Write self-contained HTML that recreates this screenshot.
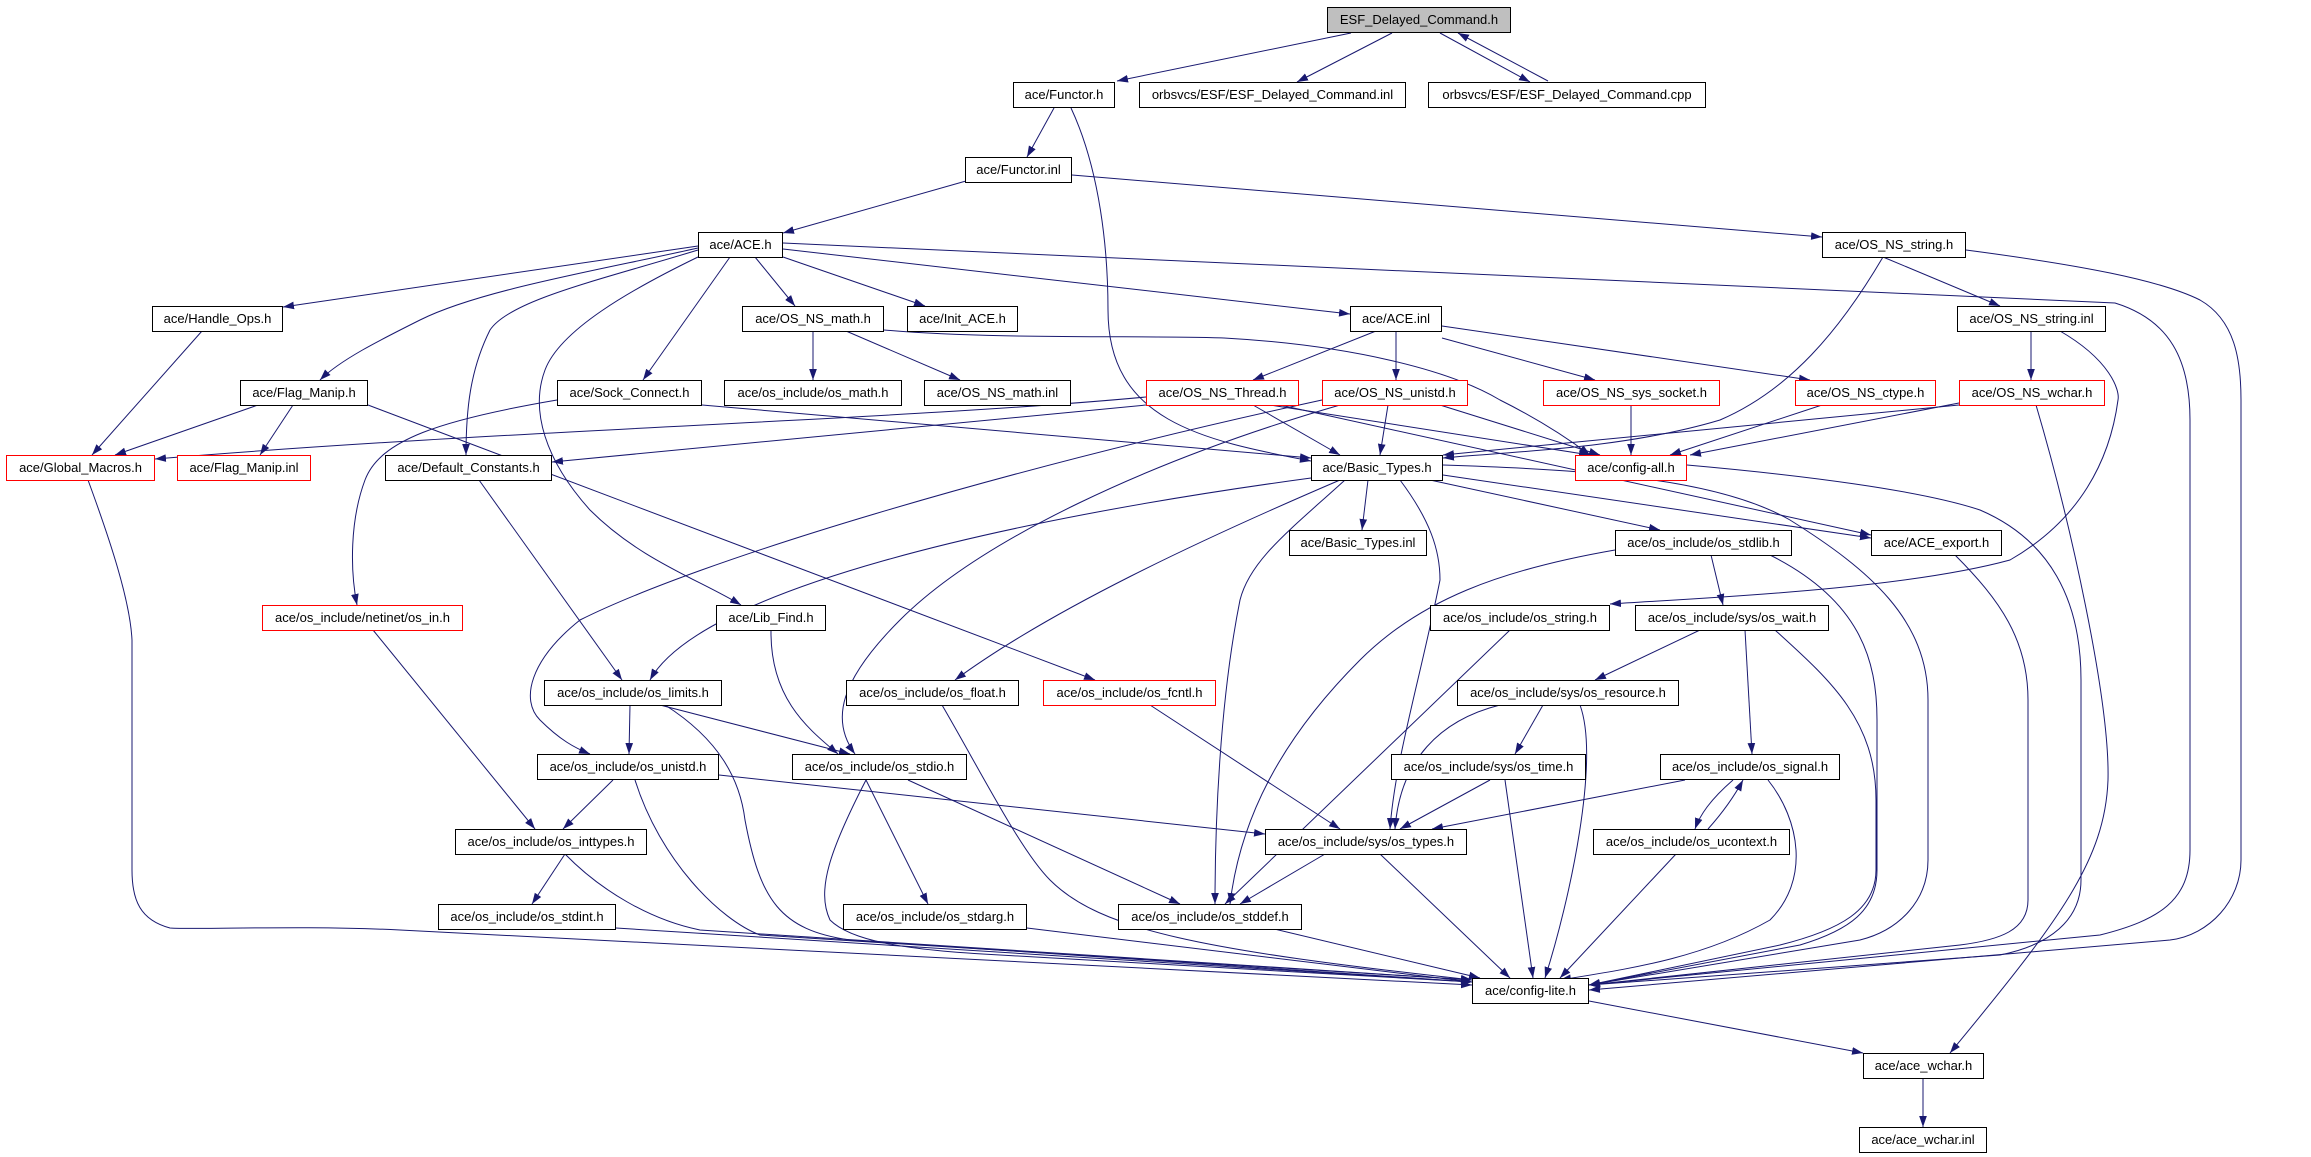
<!DOCTYPE html>
<html><head><meta charset="utf-8">
<style>
html,body{margin:0;padding:0;background:#fff;}
#c{position:relative;width:2311px;height:1157px;overflow:hidden;background:#fff;}
svg{position:absolute;left:0;top:0;}
.n{position:absolute;box-sizing:border-box;height:26px;border:1px solid #000;background:#fff;font-family:"Liberation Sans",sans-serif;font-size:13px;line-height:24px;text-align:center;white-space:nowrap;color:#000;}
.r{border-color:#ff0000;}
.g{background:#bfbfbf;}
</style></head><body><div id="c">
<svg width="2311" height="1157" viewBox="0 0 2311 1157">
<defs><marker id="a" viewBox="0 0 10 7" refX="10" refY="3.5" markerWidth="11" markerHeight="8" markerUnits="userSpaceOnUse" orient="auto"><path d="M0,0 L10,3.5 L0,7 z" fill="#191970"/></marker></defs>
<g fill="none" stroke="#191970" stroke-width="1" marker-end="url(#a)">
<path d="M1351,33 L1117,81"/>
<path d="M1392,33 L1297,82"/>
<path d="M1440,33 L1530,82"/>
<path d="M1548,81 L1458,33"/>
<path d="M1054,108 L1027,157"/>
<path d="M1071,108 C1100,170 1108,250 1108,310 C1108,420 1200,440 1311,461"/>
<path d="M966,181 L783,233"/>
<path d="M1072,175 L1822,237"/>
<path d="M698,246 L283,307"/>
<path d="M698,248 C600,270 480,290 420,320 C380,340 340,360 320,380"/>
<path d="M698,250 C600,280 510,300 490,330 C470,370 466,410 466,455"/>
<path d="M698,257 C630,290 560,330 545,370 C530,410 545,460 590,510 C640,560 700,580 741,605"/>
<path d="M730,257 L643,380"/>
<path d="M755,257 L795,306"/>
<path d="M783,257 L925,306"/>
<path d="M783,249 L1350,314"/>
<path d="M783,243 L2115,303 C2170,320 2190,360 2190,420 L2190,850 C2190,900 2160,920 2100,935 L1589,985"/>
<path d="M1966,250 C2080,265 2160,280 2200,300 C2235,320 2241,360 2241,400 L2241,860 C2241,900 2210,935 2170,940 L1589,990"/>
<path d="M1883,257 L2000,306"/>
<path d="M1883,257 C1840,330 1790,390 1720,420 C1620,450 1500,452 1443,458"/>
<path d="M2031,331 L2031,380"/>
<path d="M2060,331 C2110,360 2120,390 2118,400 C2110,460 2080,520 2010,560 C1900,590 1700,598 1610,604"/>
<path d="M1376,331 L1253,380"/>
<path d="M1396,331 L1396,380"/>
<path d="M1442,338 L1595,380"/>
<path d="M1442,326 L1810,380"/>
<path d="M813,331 L813,380"/>
<path d="M846,331 L960,380"/>
<path d="M884,330 C1000,340 1150,335 1224,338 C1350,345 1450,370 1500,400 C1540,420 1570,440 1590,455"/>
<path d="M258,405 L115,455"/>
<path d="M293,405 L260,455"/>
<path d="M368,405 L1095,680"/>
<path d="M202,331 L92,455"/>
<path d="M557,400 C440,420 380,440 365,480 C350,520 350,570 357,605"/>
<path d="M702,405 L1311,458"/>
<path d="M1146,397 C900,420 500,430 155,459"/>
<path d="M1146,405 L552,462"/>
<path d="M1253,405 L1340,455"/>
<path d="M1270,405 L1590,455"/>
<path d="M1280,405 L1871,535"/>
<path d="M1322,400 C1000,470 700,560 580,620 C530,660 520,700 540,720 C560,740 575,748 590,754"/>
<path d="M1340,405 C1150,460 980,540 900,620 C840,680 830,720 855,754"/>
<path d="M1388,405 L1380,455"/>
<path d="M1440,405 L1600,455"/>
<path d="M1631,405 L1631,455"/>
<path d="M1822,405 L1670,455"/>
<path d="M1959,403 L1690,455"/>
<path d="M1959,405 L1443,455"/>
<path d="M2036,405 C2070,520 2110,700 2108,780 C2105,860 2060,920 1950,1053"/>
<path d="M1687,465 C1800,475 1920,490 1980,510 C2050,540 2081,600 2081,680 L2081,880 C2081,920 2050,945 2000,955 L1589,985"/>
<path d="M1368,480 L1362,530"/>
<path d="M1311,478 C1000,520 700,590 650,680"/>
<path d="M1340,480 C1200,540 1050,610 955,680"/>
<path d="M1345,480 C1290,530 1250,560 1240,600 C1220,700 1215,820 1215,904"/>
<path d="M1400,480 C1430,520 1440,550 1440,580 C1420,680 1395,760 1390,829"/>
<path d="M1430,480 L1660,530"/>
<path d="M1443,475 L1871,538"/>
<path d="M1443,465 C1600,470 1720,480 1790,520 C1870,570 1928,620 1928,700 L1928,860 C1928,900 1900,930 1860,940 L1589,985"/>
<path d="M1615,550 C1500,570 1420,600 1360,660 C1280,740 1240,820 1230,904"/>
<path d="M1711,555 L1723,605"/>
<path d="M1770,555 C1860,600 1877,660 1877,720 L1877,870 C1877,910 1850,930 1800,945 L1589,985"/>
<path d="M1955,555 C2000,600 2028,640 2028,700 L2028,900 C2028,930 2000,940 1960,945 L1589,985"/>
<path d="M1510,630 L1225,904"/>
<path d="M1700,630 L1595,680"/>
<path d="M1745,630 L1752,754"/>
<path d="M1775,630 C1830,680 1876,720 1876,800 L1876,870 C1876,910 1840,930 1780,945 L1589,985"/>
<path d="M1543,705 L1515,754"/>
<path d="M1500,705 C1440,720 1400,760 1395,829"/>
<path d="M1580,705 C1600,760 1570,900 1545,978"/>
<path d="M1490,780 L1400,829"/>
<path d="M1505,780 L1533,978"/>
<path d="M1685,780 L1432,829"/>
<path d="M1733,780 C1710,800 1700,815 1695,829"/>
<path d="M1708,829 C1725,810 1735,795 1743,780"/>
<path d="M1768,780 C1800,820 1810,880 1770,920 C1700,960 1620,970 1560,980"/>
<path d="M1676,854 L1560,978"/>
<path d="M479,480 L622,680"/>
<path d="M771,630 C770,700 810,730 838,754"/>
<path d="M373,630 L535,829"/>
<path d="M630,705 L629,754"/>
<path d="M660,705 L850,754"/>
<path d="M665,705 C720,740 740,780 745,820 C760,900 780,930 850,940 L1472,982"/>
<path d="M613,780 L563,829"/>
<path d="M719,775 L1265,834"/>
<path d="M635,780 C660,860 720,920 760,935 L1472,980"/>
<path d="M565,854 L532,904"/>
<path d="M565,854 C600,890 650,920 700,930 L1472,980"/>
<path d="M616,928 L1472,982"/>
<path d="M866,780 L928,904"/>
<path d="M908,780 L1180,904"/>
<path d="M866,780 C830,850 816,890 830,920 C850,940 900,950 1000,955 L1472,982"/>
<path d="M942,705 C980,770 1020,850 1050,880 C1100,930 1200,950 1472,980"/>
<path d="M1150,705 L1340,829"/>
<path d="M1027,928 L1472,982"/>
<path d="M1270,928 L1480,978"/>
<path d="M1380,854 L1510,978"/>
<path d="M1325,854 L1240,904"/>
<path d="M88,480 C110,540 130,600 132,640 L132,870 C132,900 140,920 170,928 C200,930 300,925 400,930 L1472,985"/>
<path d="M1589,1001 L1863,1053"/>
<path d="M1923,1078 L1923,1127"/>
</g></svg>
<div class="n g" style="left:1327px;top:7px;width:184px">ESF_Delayed_Command.h</div>
<div class="n" style="left:1013px;top:82px;width:102px">ace/Functor.h</div>
<div class="n" style="left:1139px;top:82px;width:267px">orbsvcs/ESF/ESF_Delayed_Command.inl</div>
<div class="n" style="left:1428px;top:82px;width:278px">orbsvcs/ESF/ESF_Delayed_Command.cpp</div>
<div class="n" style="left:965px;top:157px;width:107px">ace/Functor.inl</div>
<div class="n" style="left:698px;top:232px;width:85px">ace/ACE.h</div>
<div class="n" style="left:1822px;top:232px;width:144px">ace/OS_NS_string.h</div>
<div class="n" style="left:152px;top:306px;width:131px">ace/Handle_Ops.h</div>
<div class="n" style="left:742px;top:306px;width:142px">ace/OS_NS_math.h</div>
<div class="n" style="left:907px;top:306px;width:111px">ace/Init_ACE.h</div>
<div class="n" style="left:1350px;top:306px;width:92px">ace/ACE.inl</div>
<div class="n" style="left:1957px;top:306px;width:149px">ace/OS_NS_string.inl</div>
<div class="n" style="left:240px;top:380px;width:128px">ace/Flag_Manip.h</div>
<div class="n" style="left:557px;top:380px;width:145px">ace/Sock_Connect.h</div>
<div class="n" style="left:724px;top:380px;width:178px">ace/os_include/os_math.h</div>
<div class="n" style="left:924px;top:380px;width:147px">ace/OS_NS_math.inl</div>
<div class="n r" style="left:1146px;top:380px;width:153px">ace/OS_NS_Thread.h</div>
<div class="n r" style="left:1322px;top:380px;width:146px">ace/OS_NS_unistd.h</div>
<div class="n r" style="left:1543px;top:380px;width:177px">ace/OS_NS_sys_socket.h</div>
<div class="n r" style="left:1795px;top:380px;width:141px">ace/OS_NS_ctype.h</div>
<div class="n r" style="left:1959px;top:380px;width:146px">ace/OS_NS_wchar.h</div>
<div class="n r" style="left:6px;top:455px;width:149px">ace/Global_Macros.h</div>
<div class="n r" style="left:177px;top:455px;width:134px">ace/Flag_Manip.inl</div>
<div class="n" style="left:385px;top:455px;width:167px">ace/Default_Constants.h</div>
<div class="n" style="left:1311px;top:455px;width:132px">ace/Basic_Types.h</div>
<div class="n r" style="left:1575px;top:455px;width:112px">ace/config-all.h</div>
<div class="n" style="left:1289px;top:530px;width:138px">ace/Basic_Types.inl</div>
<div class="n" style="left:1615px;top:530px;width:177px">ace/os_include/os_stdlib.h</div>
<div class="n" style="left:1871px;top:530px;width:131px">ace/ACE_export.h</div>
<div class="n r" style="left:262px;top:605px;width:201px">ace/os_include/netinet/os_in.h</div>
<div class="n" style="left:716px;top:605px;width:110px">ace/Lib_Find.h</div>
<div class="n" style="left:1430px;top:605px;width:180px">ace/os_include/os_string.h</div>
<div class="n" style="left:1635px;top:605px;width:194px">ace/os_include/sys/os_wait.h</div>
<div class="n" style="left:544px;top:680px;width:178px">ace/os_include/os_limits.h</div>
<div class="n" style="left:846px;top:680px;width:173px">ace/os_include/os_float.h</div>
<div class="n r" style="left:1043px;top:680px;width:173px">ace/os_include/os_fcntl.h</div>
<div class="n" style="left:1457px;top:680px;width:222px">ace/os_include/sys/os_resource.h</div>
<div class="n" style="left:537px;top:754px;width:182px">ace/os_include/os_unistd.h</div>
<div class="n" style="left:792px;top:754px;width:175px">ace/os_include/os_stdio.h</div>
<div class="n" style="left:1391px;top:754px;width:195px">ace/os_include/sys/os_time.h</div>
<div class="n" style="left:1660px;top:754px;width:180px">ace/os_include/os_signal.h</div>
<div class="n" style="left:455px;top:829px;width:192px">ace/os_include/os_inttypes.h</div>
<div class="n" style="left:1265px;top:829px;width:202px">ace/os_include/sys/os_types.h</div>
<div class="n" style="left:1593px;top:829px;width:197px">ace/os_include/os_ucontext.h</div>
<div class="n" style="left:438px;top:904px;width:178px">ace/os_include/os_stdint.h</div>
<div class="n" style="left:843px;top:904px;width:184px">ace/os_include/os_stdarg.h</div>
<div class="n" style="left:1118px;top:904px;width:184px">ace/os_include/os_stddef.h</div>
<div class="n" style="left:1472px;top:978px;width:117px">ace/config-lite.h</div>
<div class="n" style="left:1863px;top:1053px;width:121px">ace/ace_wchar.h</div>
<div class="n" style="left:1859px;top:1127px;width:128px">ace/ace_wchar.inl</div>
</div></body></html>
